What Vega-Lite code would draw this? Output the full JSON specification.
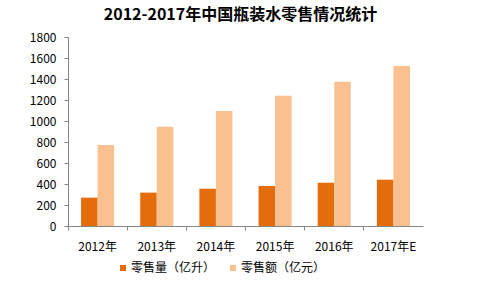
{
  "$schema": "https://vega.github.io/schema/vega-lite/v6.json",
  "width": 355,
  "height": 189,
  "autosize": {"type": "none"},
  "padding": {"left": 68, "top": 37, "right": 61, "bottom": 65},
  "background": "white",
  "title": {
    "text": "2012-2017年中国瓶装水零售情况统计",
    "font": "Noto Sans CJK SC",
    "fontSize": 16,
    "fontWeight": "bold",
    "color": "#000000",
    "anchor": "middle",
    "dx": -5,
    "offset": 8
  },
  "data": {
    "values": [
      {"year": "2012年", "series": "零售量（亿升）", "value": 270},
      {"year": "2013年", "series": "零售量（亿升）", "value": 318},
      {"year": "2014年", "series": "零售量（亿升）", "value": 355},
      {"year": "2015年", "series": "零售量（亿升）", "value": 381},
      {"year": "2016年", "series": "零售量（亿升）", "value": 412},
      {"year": "2017年E", "series": "零售量（亿升）", "value": 441},
      {"year": "2012年", "series": "零售额（亿元）", "value": 771},
      {"year": "2013年", "series": "零售额（亿元）", "value": 945},
      {"year": "2014年", "series": "零售额（亿元）", "value": 1095},
      {"year": "2015年", "series": "零售额（亿元）", "value": 1240},
      {"year": "2016年", "series": "零售额（亿元）", "value": 1373},
      {"year": "2017年E", "series": "零售额（亿元）", "value": 1525}
    ]
  },
  "mark": {"type": "bar"},
  "encoding": {
    "x": {
      "field": "year",
      "type": "nominal",
      "sort": null,
      "scale": {"paddingInner": 0, "paddingOuter": 0},
      "axis": {
        "title": null,
        "labelAngle": 0,
        "bandPosition": 0,
        "domainColor": "#868686",
        "tickColor": "#868686",
        "tickSize": 4,
        "labelPadding": 11,
        "labelFont": "Noto Sans CJK SC",
        "labelFontSize": 12,
        "labelColor": "#000000",
        "grid": false
      }
    },
    "xOffset": {
      "field": "series",
      "type": "nominal",
      "sort": null,
      "scale": {"paddingInner": 0, "paddingOuter": 0.79}
    },
    "y": {
      "field": "value",
      "type": "quantitative",
      "scale": {"domain": [0, 1800], "nice": false},
      "axis": {
        "title": null,
        "values": [0, 200, 400, 600, 800, 1000, 1200, 1400, 1600, 1800],
        "format": "d",
        "grid": false,
        "domainColor": "#868686",
        "tickColor": "#868686",
        "tickSize": 4,
        "labelPadding": 8,
        "labelFont": "Noto Sans CJK SC",
        "labelFontSize": 12,
        "labelColor": "#000000"
      }
    },
    "color": {
      "field": "series",
      "type": "nominal",
      "sort": null,
      "scale": {"range": ["#E46C0A", "#FAC090"]},
      "legend": {
        "title": null,
        "orient": "none",
        "direction": "horizontal",
        "legendX": 49,
        "legendY": 225,
        "symbolType": "square",
        "symbolSize": 36,
        "symbolStrokeWidth": 0,
        "labelFont": "Noto Sans CJK SC",
        "labelFontSize": 12,
        "labelColor": "#000000",
        "labelOffset": 2,
        "columnPadding": 11,
        "padding": 0
      }
    }
  },
  "config": {
    "view": {"stroke": null},
    "axis": {"labelFontWeight": "normal"}
  }
}
